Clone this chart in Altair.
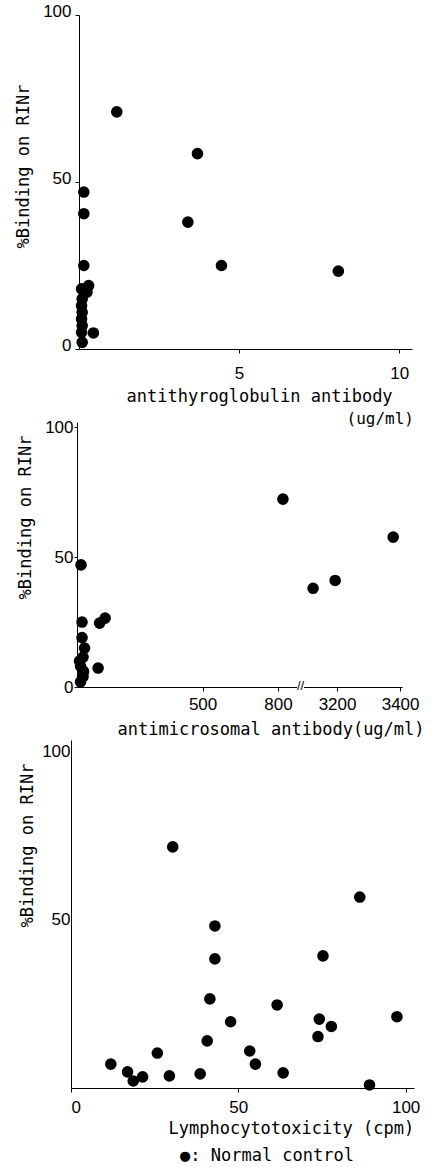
import altair as alt
import pandas as pd

# ---- data ----
top_x = [0.15, 0.15, 0.15, 0.30, 0.25, 0.08, 0.10, 0.08, 0.10, 0.08, 0.10, 0.08, 0.10,
         0.45, 1.18, 3.70, 3.40, 4.45, 8.10]
top_y = [47, 40.5, 25, 19, 17, 18, 15, 13, 11, 9, 7, 5, 2,
         4.8, 71, 58.5, 38, 25, 23.3]

mid_x = [16, 20, 90, 112, 20, 30, 24, 14, 10, 24, 14, 26, 84, 820, 3124, 3194, 3378]
mid_y = [47, 25, 24.6, 26.5, 19, 15, 11.5, 8, 10, 4, 2, 6, 7.3, 72.3, 38, 41, 57.7]

bot_x = [30.4, 86.3, 43, 43, 75.3, 41.5, 61.6, 97.4, 74.2, 77.8, 47.7, 73.8, 40.7,
         53.4, 25.8, 55.1, 11.9, 16.9, 18.6, 21.4, 29.4, 38.6, 63.4, 89.2]
bot_y = [71.7, 56.8, 48.2, 38.4, 39.3, 26.5, 24.7, 21.2, 20.5, 18.3, 19.7, 15.3, 14,
         11, 10.4, 7.1, 7.1, 4.8, 2.1, 3.3, 3.6, 4.2, 4.5, 0.9]

top_xticks = [5, 10]
top_yticks = [0, 50, 100]
mid_xticks = [500, 800, 3200, 3400]
mid_yticks = [0, 50, 100]
bot_xticks = [0, 50, 100]
bot_yticks = [50, 100]

y_title = "%Binding on RINr"
top_xtitle = "antithyroglobulin antibody"
top_unit = "(ug/ml)"
mid_xtitle = "antimicrosomal antibody(ug/ml)"
bot_xtitle = "Lymphocytotoxicity (cpm)"
legend_text = "●: Normal control"

MONO = "DejaVu Sans Mono"
SANS = "Liberation Sans"
W = 343

df_top = pd.DataFrame({"x": top_x, "y": top_y})
df_mid = pd.DataFrame({"x": mid_x, "y": mid_y})
df_bot = pd.DataFrame({"x": bot_x, "y": bot_y})
one = alt.Data(values=[{"a": 1}])

pt = dict(size=135, color="black", opacity=1)

# ---- top panel ----
top_pts = alt.Chart(df_top).mark_circle(**pt).encode(
    x=alt.X("x:Q", scale=alt.Scale(domain=[0, 10.4], range=[8, 341], nice=False, zero=False),
            axis=alt.Axis(values=top_xticks, tickSize=4, labelPadding=12, title=top_xtitle,
                          titleX=55, titleY=52.5, titleAlign="left", titleBaseline="alphabetic")),
    y=alt.Y("y:Q", scale=alt.Scale(domain=[0, 100], nice=False),
            axis=alt.Axis(values=top_yticks, offset=-8, tickSize=4, labelPadding=4, labelOffset=-4,
                          title=y_title, titleX=-56, titleY=151, titleAlign="center",
                          titleBaseline="middle", titleAngle=270)),
)
anchor = alt.Chart(one).mark_rect(color="white").encode(
    x=alt.value(-71), x2=alt.value(-70), y=alt.value(-15), y2=alt.value(-14)
)
unit = alt.Chart(one).mark_text(
    text=top_unit, font=MONO, fontSize=16, color="black", align="right", baseline="alphabetic"
).encode(x=alt.value(343), y=alt.value(409))
top = alt.layer(anchor, top_pts, unit).properties(width=W, height=334)

# ---- middle panel (broken x axis) ----
mid_pts = alt.Chart(df_mid).mark_circle(**pt).encode(
    x=alt.X("x:Q", scale=alt.Scale(domain=[0, 880, 3092, 3406], range=[6, 227, 232, 331],
                                   nice=False, zero=False),
            axis=alt.Axis(values=mid_xticks, format="d", tickSize=4, labelPadding=5,
                          title=mid_xtitle, titleX=46, titleY=47, titleAlign="left",
                          titleBaseline="alphabetic")),
    y=alt.Y("y:Q", scale=alt.Scale(domain=[0, 102], range=[338, 73], nice=False),
            axis=alt.Axis(values=mid_yticks, offset=-6, tickSize=3, labelPadding=1,
                          title=y_title, titleX=-52, titleY=168, titleAlign="center",
                          titleBaseline="middle", titleAngle=270)),
)
gap = alt.Chart(one).mark_rule(color="white", strokeWidth=3).encode(
    x=alt.value(226), x2=alt.value(233), y=alt.value(338)
)
brk = alt.Chart(one).mark_text(
    text="//", font=SANS, fontSize=13, color="black", baseline="middle", align="center"
).encode(x=alt.value(229.5), y=alt.value(337))
mid = alt.layer(mid_pts, gap, brk).properties(width=W, height=338)

# ---- bottom panel ----
bot_pts = alt.Chart(df_bot).mark_circle(**pt).encode(
    x=alt.X("x:Q", scale=alt.Scale(domain=[0, 102.5], range=[0, 343], nice=False),
            axis=alt.Axis(values=bot_xticks, tickSize=4, labelPadding=7, title=bot_xtitle,
                          titleX=97, titleY=45, titleAlign="left", titleBaseline="alphabetic")),
    y=alt.Y("y:Q", scale=alt.Scale(domain=[0, 103.5], range=[401, 53], nice=False),
            axis=alt.Axis(values=bot_yticks, ticks=False, labelPadding=1,
                          title=y_title, titleX=-44, titleY=158, titleAlign="center",
                          titleBaseline="middle", titleAngle=270)),
)
legend = alt.Chart(one).mark_text(
    text=legend_text, font=MONO, fontSize=17, color="black", align="left", baseline="alphabetic"
).encode(x=alt.value(109), y=alt.value(474))
bot = alt.layer(bot_pts, legend).properties(width=W, height=401)

chart = alt.vconcat(top, mid, bot, spacing=0, bounds="flush").properties(
    padding=0
).configure_view(strokeWidth=0).configure_axis(
    grid=False, domainColor="black", tickColor="black", labelColor="black",
    titleColor="black", labelFont=SANS, labelFontSize=17, titleFont=MONO,
    titleFontSize=17, titleFontWeight="normal", domainWidth=1, tickWidth=1
)

chart.save("out.html", embed_options={"renderer": "svg", "actions": False})
